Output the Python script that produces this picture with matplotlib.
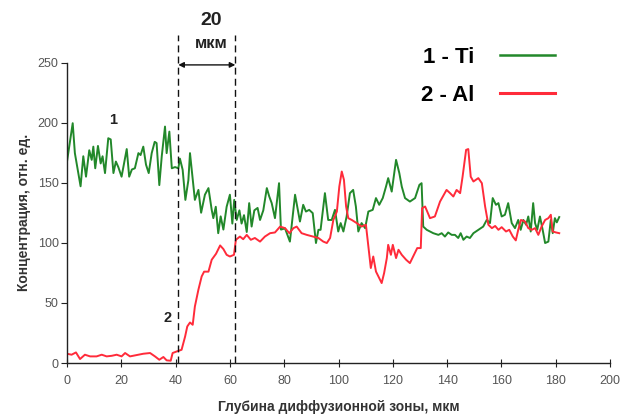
import matplotlib
matplotlib.use("Agg")
import matplotlib.pyplot as plt
from matplotlib.lines import Line2D

plt.rcParams['font.family'] = ['Liberation Sans', 'DejaVu Sans']

# Ti (curve 1)
ti_x = [0, 2.1, 2.9, 3.8, 5.0, 6.0, 7.0, 8.2, 9.1, 9.7, 10.4, 11.4, 12.4, 13.1, 14.0, 15.2, 16.1,
        17.1, 18.0, 18.9, 20.1, 21.0, 22.0, 22.9, 23.9, 25.0, 26.3, 27.1, 28.1, 29.1, 30.1, 31.2,
        32.3, 33.0, 34.0, 34.9, 36.1, 36.7, 37.7, 38.6, 39.8, 41.0, 41.6, 42.6, 43.6, 44.7, 45.3,
        46.2, 47.1, 48.4, 49.4, 50.8, 52.1, 53.3, 53.9, 54.8, 55.7, 56.6, 57.6, 58.8, 60.0, 60.9,
        61.6, 62.5, 63.5, 64.3, 65.2, 66.2, 67.1, 68.0, 69.0, 70.2, 71.1, 72.3, 73.6, 74.5, 75.4,
        76.6, 78.1, 78.8, 80.3, 82.1, 84.0, 85.8, 87.0, 88.0, 89.2, 90.5, 91.7, 92.6, 93.4, 95.0,
        96.2, 97.5, 98.7, 99.9, 100.8, 101.8, 103.0, 104.2, 105.4, 106.4, 107.3, 108.5, 109.8,
        111.0, 112.6, 113.8, 115.0, 116.3, 117.5, 118.3, 119.6, 121.2, 122.4, 123.3, 124.5, 126.3,
        128.2, 129.8, 130.6, 131.2, 132.5, 134.9, 136.8, 138.0, 139.2, 140.4, 141.7, 142.9, 144.1,
        145.0, 146.0, 147.2, 148.4, 149.7, 151.5, 153.3, 154.6, 155.8, 156.8, 158.0, 158.9, 160.1,
        161.3, 162.5, 163.8, 165.0, 166.2, 167.1, 168.1, 169.1, 169.9, 170.8, 171.7, 172.4, 173.2,
        174.2, 175.2, 176.1, 177.3, 178.2, 178.9, 179.7, 180.4, 181.3]
ti_y = [167.6, 199.5, 174.6, 163, 147, 172, 155, 177, 169, 180, 162, 180.6, 166, 172, 158, 187, 186,
        158, 167.6, 163, 155, 166, 178, 155, 161, 162, 174.6, 173, 180, 165, 158, 174.6,
        184, 183, 148, 172, 196.7, 174.6, 192.5, 162, 163, 162, 170, 160.7, 135.7, 152, 174.6,
        155, 135.7, 144, 125, 140, 145.5, 127.4, 120.5, 130, 108, 122, 111, 130, 140, 116,
        135.7, 119, 127, 116, 123, 109, 133, 113.5, 127, 129, 119, 127, 145.5, 138.5, 133,
        120.5, 149.6, 111, 112, 101, 140, 117.7, 131.6, 126, 127.4, 124.7, 99.8, 110.8, 110.8, 141.3,
        119, 119, 127.4, 109.4, 116.4, 109.4, 121.9, 141.3, 144, 130.2, 109.4, 116.4, 112.2,
        126, 127.4, 137.2, 131.6, 137.2, 146.8, 153.8, 142.6, 169, 158, 146.8, 137.2, 134.3,
        137.2, 148.2, 149.6, 113.5, 110.8, 108, 106.6, 108, 105.2, 108.6, 106.6, 106.6, 104,
        108, 102.5, 105.2, 104, 108, 110.8, 113.5, 119, 116.4, 137.2, 131.6, 133, 121.9,
        123.3, 133, 116.4, 112.2, 119, 110.8, 119, 115, 121.9, 109.4, 133, 116.4, 110.8,
        121.9, 110.8, 99.8, 101, 119, 108, 120.5, 117, 121.4]

# Al (curve 2)
al_x = [0, 1.7, 3.3, 4.8, 6.6, 8.5, 10.9, 12.8, 14.6, 16.5, 18.3, 20.1, 21.4, 23.2, 25.7, 28.1,
        30.6, 32.4, 34.0, 35.5, 36.7, 38.2, 38.9, 40.4, 42.2, 43.5, 44.3, 45.3, 46.3, 47.1, 48.4,
        49.6, 50.5, 52.1, 53.3, 54.9, 56.4, 57.6, 58.8, 60.0, 61.5, 62.2, 63.7, 64.9, 66.2, 67.7,
        69.2, 71.1, 72.9, 74.8, 76.6, 78.5, 80.3, 81.9, 83.4, 84.6, 86.4, 88.3, 90.7, 92.6, 94.4,
        95.7, 96.9, 98.1, 99.4, 100.3, 101.2, 102.0, 102.8, 103.6, 104.9, 106.7, 108.5, 110.1,
        111.0, 111.9, 112.8, 113.8, 115.0, 115.9, 116.8, 117.8, 118.3, 119.3, 120.0, 121.2, 122.1,
        123.3, 124.9, 126.3, 127.8, 129.0, 130.3, 130.8, 131.9, 133.7, 135.5, 137.4, 139.8, 141.1,
        142.3, 143.5, 144.8, 145.7, 147.0, 147.8, 148.7, 149.7, 151.5, 152.8, 154.0, 155.2, 156.5,
        157.7, 158.9, 160.1, 161.7, 162.9, 164.2, 165.3, 166.2, 167.2, 168.7, 169.9, 171.2, 172.4,
        173.6, 174.8, 176.1, 177.3, 178.2, 178.9, 180.1, 181.3]
al_y = [7.7, 6.9, 8.8, 3.3, 6.9, 5.5, 5.5, 6.9, 5.5, 6, 6.9, 5.5, 8.3, 5.5, 6.6, 7.7,
        8.3, 5.5, 2.7, 5, 2.2, 1.9, 8.3, 9.6, 11, 22, 30.4, 33.7, 31.8, 47, 61,
        72, 76, 76, 85.9, 90.9, 97.8, 94.8, 90, 88.6, 90, 102.5, 105.2, 103, 106.6, 102.5,
        104, 101, 105.2, 108, 108.6, 113.5, 112.2, 108, 112.2, 113.5, 108, 106.6, 105.2, 104, 101,
        99.8, 104, 119, 126, 146.8, 159.3, 152.4, 130.2, 120.5, 119, 116.4, 113.5, 115,
        97, 79, 88.6, 76.1, 70.7, 66.5, 74.8, 87.3, 98.3, 90, 98.3, 87.3, 94.2,
        90, 85.9, 83.1, 90, 95.6, 95.6, 128.8, 130.2, 120.5, 121.9, 134.3, 144, 141.3,
        138.5, 144, 141.3, 155, 177.3, 178, 155, 151, 153.8, 149.6, 130.2, 115, 112.2,
        114, 110.8, 113, 109.4, 110.8, 105.2, 102, 110.8, 119, 117.7, 112.2, 110.8, 112.2,
        106.6, 113.5, 119, 120.5, 123.3, 109.4, 108.6, 108]

x_ticks = [0, 20, 40, 60, 80, 100, 120, 140, 160, 180, 200]
y_ticks = [0, 50, 100, 150, 200, 250]
zone_left, zone_right = 41, 62
zone_label_top = "20"
zone_label_unit = "мкм"
legend_labels = ["1 - Ti", "2 - Al"]
xlabel = "Глубина диффузионной зоны, мкм"
ylabel = "Концентрация, отн. ед."

green = "#22882a"
red = "#ff2b3a"

fig = plt.figure(figsize=(6.27, 4.16), dpi=100)
ax = fig.add_axes([67 / 627, 1 - 363 / 416, (610 - 67) / 627, (363 - 62.5) / 416])

ax.plot(ti_x, ti_y, color=green, lw=1.4)
ax.plot(al_x, al_y, color=red, lw=1.4)

ax.set_xlim(0, 200)
ax.set_ylim(0, 250)
ax.set_xticks(x_ticks)
ax.set_yticks(y_ticks)
for s in ["top", "right"]:
    ax.spines[s].set_visible(False)
for s in ["left", "bottom"]:
    ax.spines[s].set_linewidth(1.0)
    ax.spines[s].set_color("#222222")
ax.tick_params(axis="x", direction="inout", length=6, width=0.8, colors="#222222",
               labelcolor="#555555", labelsize=9, pad=6)
ax.tick_params(axis="y", direction="out", length=4, width=0.8, colors="#222222",
               labelcolor="#555555", labelsize=9, pad=2)

ax.set_xlabel(xlabel, fontsize=10, fontweight="bold", color="#333333", labelpad=9)
ax.set_ylabel(ylabel, fontsize=10, fontweight="bold", color="#333333", labelpad=5)

# dashed zone boundaries
for xv in (zone_left, zone_right):
    ax.plot([xv, xv], [0, 273], color="#111111", lw=1.0, ls=(0, (5, 3)), clip_on=False)

ax.annotate("", xy=(zone_left, 248), xytext=(zone_right, 248),
            arrowprops=dict(arrowstyle="<|-|>", color="#111111", lw=1.0,
                            mutation_scale=8, shrinkA=0, shrinkB=0),
            annotation_clip=False)
ax.text((zone_left + zone_right) / 2 + 1.5, 285, zone_label_top, ha="center", va="center",
        fontsize=14, fontweight="bold", color="#222222", clip_on=False)
ax.text((zone_left + zone_right) / 2 + 1.5, 266, zone_label_unit, ha="center", va="center",
        fontsize=12, fontweight="bold", color="#222222", clip_on=False)

ax.text(17, 202, "1", fontsize=10.5, fontweight="bold", ha="center", va="center", color="#222222")
ax.text(37.2, 37.7, "2", fontsize=10.5, fontweight="bold", ha="center", va="center", color="#222222")

handles = [Line2D([], [], color=green, lw=1.8), Line2D([], [], color=red, lw=2.2)]
fig.legend(handles, legend_labels, loc="upper left", bbox_to_anchor=(421 / 627, 1 - 47 / 416),
           bbox_transform=fig.transFigure, frameon=False, markerfirst=False,
           prop=dict(size=16, weight="bold"), handlelength=2.5, handletextpad=1.15,
           labelspacing=0.75, borderpad=0, borderaxespad=0)

fig.savefig("out.png", dpi=100)
